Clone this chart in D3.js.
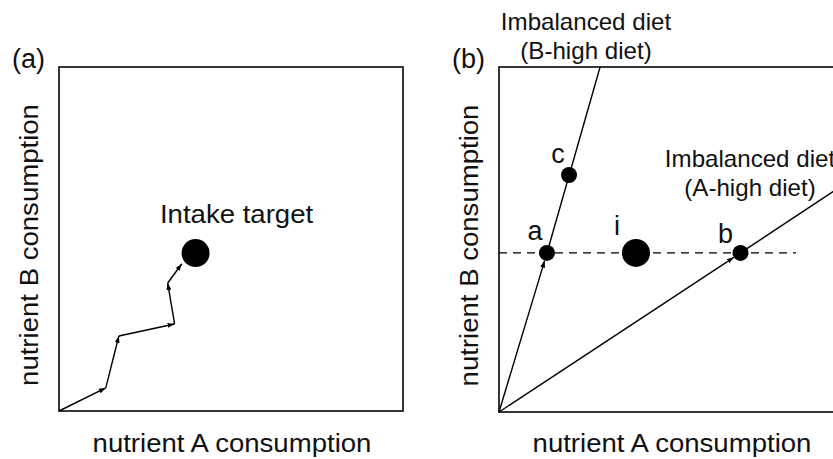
<!DOCTYPE html>
<html>
<head>
<meta charset="utf-8">
<script src="https://cdn.jsdelivr.net/npm/d3@7"></script>
<style>
  body { margin: 0; background: #fff; }
  text { font-family: "Liberation Sans", Arial, sans-serif; fill: #111; }
</style>
</head>
<body>
<div id="viz"></div>
<script>
// panel (a): stepwise intake trajectory towards the target
const trajectory = [[0, 0], [1.36, 0.67], [1.74, 2.18], [3.36, 2.53], [3.16, 3.72], [3.57, 4.28]];
const intakeTarget = [3.97, 4.59];

// panel (b): two imbalanced diet rails and the points on them
const bHighRailEnd = [2.93, 10];
const aHighRailEnd = [10, 6.6];
const railPoints = [
    {name: 'a', x: 1.39, y: 4.61},
    {name: 'c', x: 2.03, y: 6.87},
    {name: 'b', x: 7.0, y: 4.61}
];
const targetB = {name: 'i', x: 3.97, y: 4.61};
const targetLine = [[0, 4.61], [8.61, 4.61]];

const axisLabels = {x: 'nutrient A consumption', y: 'nutrient B consumption'};

const W = 833, H = 459;
const STRETCH = 1.04;

const svg = d3.select('#viz').append('svg')
    .attr('width', W)
    .attr('height', H);

svg.append('defs').append('marker')
    .attr('id', 'arr')
    .attr('viewBox', '0 0 10 10')
    .attr('refX', 10)
    .attr('refY', 5)
    .attr('markerUnits', 'userSpaceOnUse')
    .attr('markerWidth', 7)
    .attr('markerHeight', 7)
    .attr('orient', 'auto')
    .append('path')
    .attr('d', 'M0,1.5L10,5L0,8.5Z')
    .attr('fill', '#000');

function stretch(sel, k) {
    sel.each(function() {
        const w = this.getComputedTextLength();
        d3.select(this).attr('textLength', w * k).attr('lengthAdjust', 'spacingAndGlyphs');
    });
}

function panel(left, top, bottom, tag, tagX, xLabelX) {
    const size = bottom - top;
    const x = d3.scaleLinear().domain([0, 10]).range([left, left + size]);
    const y = d3.scaleLinear().domain([0, 10]).range([bottom, top]);

    svg.append('rect')
        .attr('x', x(0)).attr('y', y(10))
        .attr('width', x(10) - x(0)).attr('height', y(0) - y(10))
        .attr('fill', 'none')
        .attr('stroke', '#222')
        .attr('stroke-width', 1.8);

    svg.append('text')
        .attr('x', tagX).attr('y', 68)
        .style('font-size', '27px')
        .text(tag);

    svg.append('text')
        .attr('transform', `translate(${left - 21},${(top + bottom) / 2 + 6}) rotate(-90)`)
        .attr('text-anchor', 'middle')
        .style('font-size', '26.5px')
        .text(axisLabels.y)
        .call(stretch, STRETCH);

    svg.append('text')
        .attr('x', xLabelX).attr('y', 452)
        .attr('text-anchor', 'middle')
        .style('font-size', '26.5px')
        .text(axisLabels.x)
        .call(stretch, STRETCH);

    return {x, y};
}

// ---------- panel (a)
{
    const {x, y} = panel(59, 67, 411, '(a)', 12, 232);

    for (let i = 1; i < trajectory.length; i++) {
        svg.append('line')
            .attr('x1', x(trajectory[i - 1][0])).attr('y1', y(trajectory[i - 1][1]))
            .attr('x2', x(trajectory[i][0])).attr('y2', y(trajectory[i][1]))
            .attr('stroke', '#000')
            .attr('stroke-width', 1.4)
            .attr('marker-end', 'url(#arr)');
    }

    svg.append('circle')
        .attr('cx', x(intakeTarget[0])).attr('cy', y(intakeTarget[1]))
        .attr('r', 14)
        .attr('fill', '#000');

    svg.append('text')
        .attr('x', x(intakeTarget[0]) + 41).attr('y', y(intakeTarget[1]) - 30)
        .attr('text-anchor', 'middle')
        .style('font-size', '26.5px')
        .text('Intake target')
        .call(stretch, STRETCH);
}

// ---------- panel (b)
{
    const {x, y} = panel(499, 67, 412, '(b)', 452, 672);
    const line = d3.line().x(d => x(d[0])).y(d => y(d[1]));

    svg.append('path')
        .attr('d', line(targetLine))
        .attr('fill', 'none')
        .attr('stroke', '#000')
        .attr('stroke-width', 1.3)
        .attr('stroke-dasharray', '8,6');

    // rails: arrow from the origin to a / b, plain line beyond
    [['a', bHighRailEnd], ['b', aHighRailEnd]].forEach(([n, end]) => {
        const p = railPoints.find(d => d.name === n);
        const x0 = x(0), y0 = y(0), x1 = x(p.x), y1 = y(p.y);
        const len = Math.hypot(x1 - x0, y1 - y0);
        const k = (len - 8) / len;
        svg.append('line')
            .attr('x1', x0).attr('y1', y0)
            .attr('x2', x0 + (x1 - x0) * k).attr('y2', y0 + (y1 - y0) * k)
            .attr('stroke', '#000')
            .attr('stroke-width', 1.4)
            .attr('marker-end', 'url(#arr)');
        svg.append('path')
            .attr('d', line([[p.x, p.y], end]))
            .attr('fill', 'none')
            .attr('stroke', '#000')
            .attr('stroke-width', 1.4);
    });

    svg.selectAll('.rail-pt')
        .data(railPoints)
        .join('circle')
        .attr('class', 'rail-pt')
        .attr('cx', d => x(d.x)).attr('cy', d => y(d.y))
        .attr('r', 8)
        .attr('fill', '#000');

    svg.append('circle')
        .attr('cx', x(targetB.x)).attr('cy', y(targetB.y))
        .attr('r', 14)
        .attr('fill', '#000');

    const labelOff = {a: [-12, -13], c: [-11, -12], b: [-15, -10], i: [-19, -18]};
    svg.selectAll('.pt-label')
        .data(railPoints.concat([targetB]))
        .join('text')
        .attr('class', 'pt-label')
        .attr('x', d => x(d.x) + labelOff[d.name][0])
        .attr('y', d => y(d.y) + labelOff[d.name][1])
        .attr('text-anchor', 'middle')
        .style('font-size', '27px')
        .text(d => d.name);

    const railNotes = [
        {lines: ['Imbalanced diet', '(B-high diet)'], x: 586, y: 30},
        {lines: ['Imbalanced diet', '(A-high diet)'], x: 750, y: 167}
    ];
    railNotes.forEach(n => {
        n.lines.forEach((t, i) => {
            svg.append('text')
                .attr('x', n.x).attr('y', n.y + i * 29)
                .attr('text-anchor', 'middle')
                .style('font-size', '23.2px')
                .text(t)
                .call(stretch, STRETCH);
        });
    });
}
</script>
</body>
</html>
